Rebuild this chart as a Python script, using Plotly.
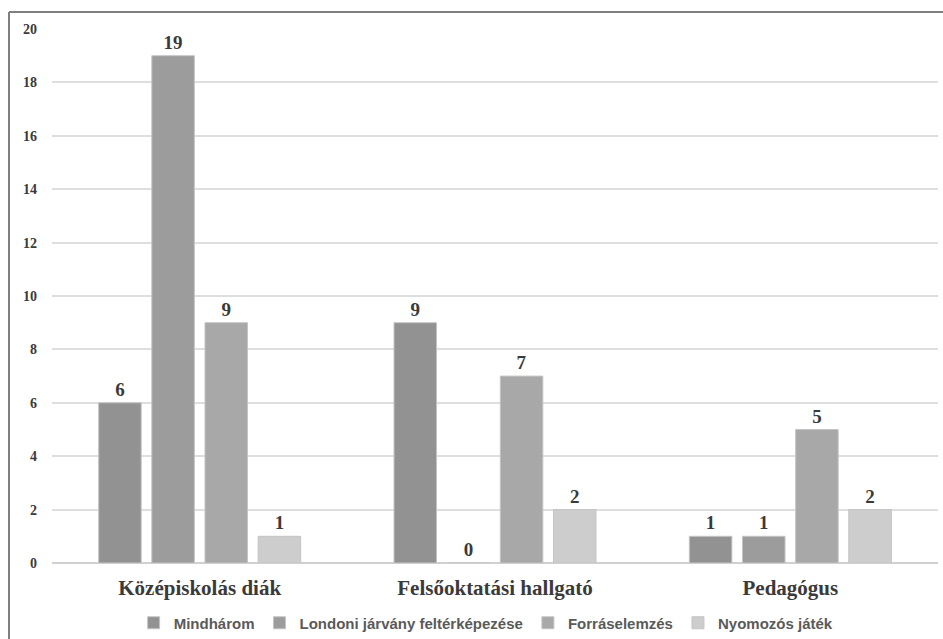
import plotly.graph_objects as go

categories = ["Középiskolás diák", "Felsőoktatási hallgató", "Pedagógus"]
series_names = ["Mindhárom", "Londoni járvány feltérképezése", "Forráselemzés", "Nyomozós játék"]
mindharom = [6, 9, 1]
londoni = [19, 0, 1]
forras = [9, 7, 5]
nyomozos = [1, 2, 2]
y_ticks = [0, 2, 4, 6, 8, 10, 12, 14, 16, 18, 20]

colors = ["#929292", "#9c9c9c", "#a8a8a8", "#cdcdcd"]
series_values = [mindharom, londoni, forras, nyomozos]

L, R, T, B = 52, 938, 29, 563
W, H = 943, 639
pw, ph = R - L, B - T

fig = go.Figure()
for name, vals, col in zip(series_names, series_values, colors):
    fig.add_trace(go.Bar(
        x=categories, y=vals, name=name,
        marker=dict(color=col, line=dict(width=1, color="#c4c4c4")),
        text=[str(v) for v in vals], textposition="outside",
        textfont=dict(family="Liberation Serif", size=19, color="#3a3a3a", weight="bold"),
        cliponaxis=False,
    ))

fig.update_layout(
    width=W, height=H,
    margin=dict(l=L, r=W - R, t=T, b=H - B, autoexpand=False),
    paper_bgcolor="white", plot_bgcolor="white",
    barmode="group", bargap=0.28, bargroupgap=0.2,
    showlegend=True,
    legend=dict(orientation="h", x=0.49, xanchor="center", y=(B - 623) / ph, yanchor="middle",
                bgcolor="rgba(0,0,0,0)",
                font=dict(family="Liberation Sans", size=15, color="#5a5a5a", weight="bold"),
                itemwidth=30, traceorder="normal"),
    xaxis=dict(showgrid=False, showline=False, ticks="",
               tickfont=dict(family="Liberation Serif", size=21, color="#3a3a3a", weight="bold"),
               ticklabelstandoff=10),
    yaxis=dict(range=[0, 20], tickvals=y_ticks, showgrid=True, gridcolor="#dedede", gridwidth=2,
               zeroline=True, zerolinecolor="#d0d0d0", zerolinewidth=2,
               tickfont=dict(family="Liberation Serif", size=14, color="#3a3a3a", weight="bold"),
               ticklabelstandoff=14),
)

# left and top frame lines
fig.add_shape(type="line", xref="paper", yref="paper",
              x0=(9 - L) / pw, x1=(9 - L) / pw, y0=(B - 645) / ph, y1=(B - 12) / ph,
              line=dict(color="#7f7f7f", width=2), layer="below")
fig.add_shape(type="line", xref="paper", yref="paper",
              x0=(9 - L) / pw, x1=(950 - L) / pw, y0=(B - 12) / ph, y1=(B - 12) / ph,
              line=dict(color="#7f7f7f", width=2), layer="below")

fig.write_html("out.html", config={"displayModeBar": False},
               post_script="document.body.style.margin='0';")
